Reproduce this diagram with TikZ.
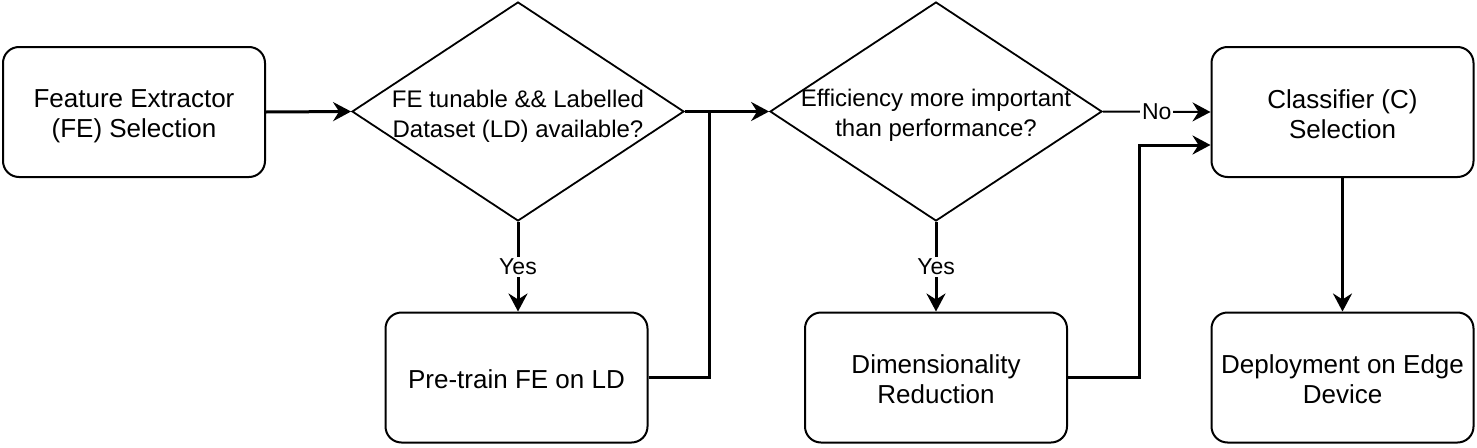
\documentclass[tikz,border=0pt]{standalone}
\usepackage{fontspec}
\setmainfont{Liberation Sans}
\usetikzlibrary{shapes.geometric,arrows.meta,calc}
\begin{document}
\begin{tikzpicture}[x=1pt,y=-1pt,
  box/.style={draw,line width=2pt,rounded corners=16pt,minimum width=262pt,minimum height=130pt,inner sep=0pt},
  btext/.style={align=center,inner sep=0pt,font=\fontsize{26}{30}\selectfont},
  decision/.style={draw,line width=1.8pt,diamond,minimum width=332pt,minimum height=219pt,inner sep=0pt},
  dtext/.style={align=center,inner sep=0pt,font=\fontsize{24}{30}\selectfont},
  conn/.style={line width=3pt,-{Stealth[length=18pt,width=19pt,inset=6pt]}},
  plain/.style={line width=3pt},
  lbl/.style={fill=white,inner sep=2pt,font=\fontsize{23}{26}\selectfont}
]
\useasboundingbox (0,0) rectangle (1477,447);
\node[box] (b1) at (134,112) {};
\node[btext] (b1t) at (134,116) {Feature Extractor\\(FE) Selection};
\node[decision] (d1) at (518,111.5) {};
\node[dtext] (d1t) at (518,116) {FE tunable \&\& Labelled\\Dataset (LD) available?};
\node[box] (b2) at (516.5,377.5) {};
\node[btext] (b2t) at (516.5,379.5) {Pre-train FE on LD};
\node[decision] (d2) at (936,111.5) {};
\node[dtext] (d2t) at (936,115) {Efficiency more important\\than performance?};
\node[box] (b3) at (936,377.5) {};
\node[btext] (b3t) at (936,379) {Dimensionality\\Reduction};
\node[box] (b4) at (1342.5,112) {};
\node[btext] (b4t) at (1342.5,114) {Classifier (C)\\Selection};
\node[box] (b5) at (1342.5,377.5) {};
\node[btext] (b5t) at (1342.5,379) {Deployment on Edge\\Device};
\coordinate (j1) at (709,111.5);
\coordinate (j2) at (1139,145);

\draw[conn] (b1.east) -- (d1.west);
\draw[conn] (d1.south) -- node[lbl] (y1) {Yes} (d1.south |- b2.north);
\draw[conn] (d1.east) -- (d2.west);
\draw[plain] (b2.east) -| (j1);
\draw[conn,line width=2pt] (d2.east) -- node[lbl] (n1) {No} (b4.west);
\draw[conn] (d2.south) -- node[lbl] (y2) {Yes} (b3.north);
\draw[conn] (b3.east) -| (j2) -- (j2 -| b4.west);
\draw[conn] (b4.south) -- (b5.north);
\end{tikzpicture}
\end{document}
